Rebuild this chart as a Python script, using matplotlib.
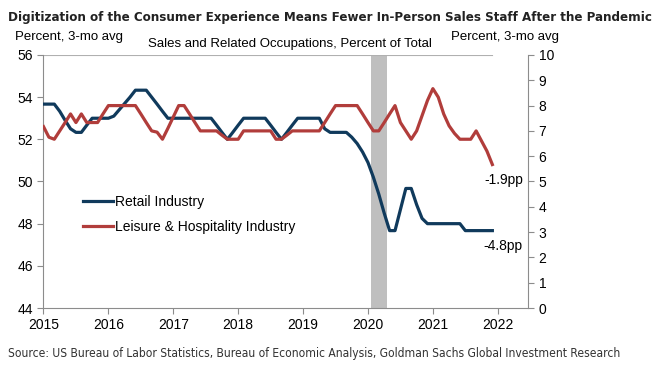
import numpy as np
import matplotlib
matplotlib.use('agg')
import matplotlib.pyplot as plt
from matplotlib import font_manager
from matplotlib.font_manager import FontProperties

# monthly, Jan 2015 .. Dec 2021, 3-mo avg
months = np.arange(84)
retail = [53.67, 53.67, 53.67, 53.33, 52.9, 52.5, 52.33, 52.33, 52.67, 53.0,
          53.0, 53.0, 53.0, 53.1, 53.4, 53.7, 54.0, 54.33, 54.33, 54.33,
          54.0, 53.67, 53.33, 53.0, 53.0, 53.0, 53.0, 53.0, 53.0, 53.0,
          53.0, 53.0, 52.67, 52.33, 52.0, 52.33, 52.67, 53.0, 53.0, 53.0,
          53.0, 53.0, 52.67, 52.33, 52.0, 52.33, 52.67, 53.0, 53.0, 53.0,
          53.0, 53.0, 52.5, 52.33, 52.33, 52.33, 52.33, 52.1, 51.8, 51.4,
          50.9, 50.2, 49.4, 48.5, 47.67, 47.67, 48.67, 49.67, 49.67, 48.9,
          48.25, 48.0, 48.0, 48.0, 48.0, 48.0, 48.0, 48.0, 47.67, 47.67,
          47.67, 47.67, 47.67, 47.67]
leisure = [7.17, 6.75, 6.67, 7.0, 7.33, 7.67, 7.33, 7.67, 7.33, 7.33,
           7.33, 7.67, 8.0, 8.0, 8.0, 8.0, 8.0, 8.0, 7.67, 7.33,
           7.0, 6.95, 6.67, 7.1, 7.55, 8.0, 8.0, 7.67, 7.33, 7.0,
           7.0, 7.0, 7.0, 6.83, 6.67, 6.67, 6.67, 7.0, 7.0, 7.0,
           7.0, 7.0, 7.0, 6.67, 6.67, 6.83, 7.0, 7.0, 7.0, 7.0,
           7.0, 7.0, 7.33, 7.67, 8.0, 8.0, 8.0, 8.0, 8.0, 7.67,
           7.33, 7.0, 7.0, 7.33, 7.67, 8.0, 7.33, 7.0, 6.67, 7.0,
           7.6, 8.2, 8.67, 8.33, 7.67, 7.2, 6.9, 6.67, 6.67, 6.67,
           7.0, 6.6, 6.2, 5.67]
dates = 2015 + months / 12.0
years = list(range(2015, 2023))
recession = (2020.04, 2020.29)
labels = ['Retail Industry', 'Leisure & Hospitality Industry']
endnotes = ['-4.8pp', '-1.9pp']
title = 'Digitization of the Consumer Experience Means Fewer In-Person Sales Staff After the Pandemic'
source = 'Source: US Bureau of Labor Statistics, Bureau of Economic Analysis, Goldman Sachs Global Investment Research'


def narrow_font(weight):
    """find a condensed face if one is installed, else something narrowish"""
    tries = [dict(family='Liberation Sans Narrow'),
             dict(family='DejaVu Sans', stretch='condensed'),
             dict(family='Noto Sans', stretch='condensed'),
             dict(family='Roboto Condensed'),
             dict(family='Open Sans Condensed')]
    for t in tries:
        fp = FontProperties(weight=weight, **t)
        try:
            path = font_manager.findfont(fp, fallback_to_default=False)
        except Exception:
            continue
        name = path.lower()
        if 'narrow' in name or 'condensed' in name:
            return FontProperties(fname=path)
    return FontProperties(family='Roboto', weight=weight)


def fit(txt, target_px):
    """shrink/grow a text until it is target_px wide"""
    fig.canvas.draw()
    r = fig.canvas.get_renderer()
    w = txt.get_window_extent(r).width
    txt.set_fontsize(txt.get_fontsize() * target_px / w)


plt.rcParams['font.family'] = ['Liberation Sans', 'DejaVu Sans']

navy = '#103a5c'
red = '#b13d3b'
grey = '#8c8c8c'

fig = plt.figure(figsize=(6.61, 3.71), dpi=100)
ax = fig.add_axes([0.0658, 0.1698, 0.7334, 0.682])
ax2 = ax.twinx()

ax.axvspan(recession[0], recession[1], color='#bfbfbf', lw=0, zorder=0)
l1, = ax.plot(dates, retail, color=navy, lw=2.3, label=labels[0], zorder=3)
l2, = ax2.plot(dates, leisure, color=red, lw=2.3, label=labels[1], zorder=3)

ax.set_xlim(2015, 2022.47)
ax.set_ylim(44, 56)
ax2.set_ylim(0, 10)
ax.set_yticks(range(44, 57, 2))
ax2.set_yticks(range(0, 11))
ax.set_xticks(years)
ax.set_xticklabels([str(y) for y in years])

for a in (ax, ax2):
    for s in a.spines.values():
        s.set_visible(False)
    a.tick_params(colors=grey, labelcolor='black', labelsize=10, width=0.8, length=4)
ax.spines['left'].set_visible(True)
ax.spines['bottom'].set_visible(True)
ax2.spines['right'].set_visible(True)
for s in (ax.spines['left'], ax.spines['bottom'], ax2.spines['right']):
    s.set_color(grey)
    s.set_linewidth(0.8)
ax.axhline(56, xmin=0, xmax=0.925, color='#b0b0b0', lw=0.8)
ax.tick_params(axis='x', pad=3)

leg = ax.legend(handles=[l1, l2], loc='upper left', bbox_to_anchor=(0.055, 0.495),
                frameon=False, fontsize=10, handlelength=2.2, handletextpad=0.1,
                labelspacing=0.75)

ax.text(2021.78, 46.95, endnotes[0], fontsize=10, ha='left', va='center')
ax2.text(2021.8, 5.05, endnotes[1], fontsize=10, ha='left', va='center')

tfp = narrow_font('bold')
t1 = fig.text(0.012, 0.953, title, fontproperties=tfp, fontsize=12.5,
              fontweight='bold', color='#222222', va='center')
fig.text(0.022, 0.9, 'Percent, 3-mo avg', fontsize=9.5, va='center')
fig.text(0.683, 0.9, 'Percent, 3-mo avg', fontsize=9.5, va='center')
fig.text(0.224, 0.881, 'Sales and Related Occupations, Percent of Total', fontsize=9.5, va='center')
sfp = narrow_font('normal')
t2 = fig.text(0.012, 0.046, source, fontproperties=sfp, fontsize=10.5,
              color='#333333', va='center')
fit(t1, 645)
fit(t2, 615)

plt.savefig('out.png', dpi=100)
plt.close()
